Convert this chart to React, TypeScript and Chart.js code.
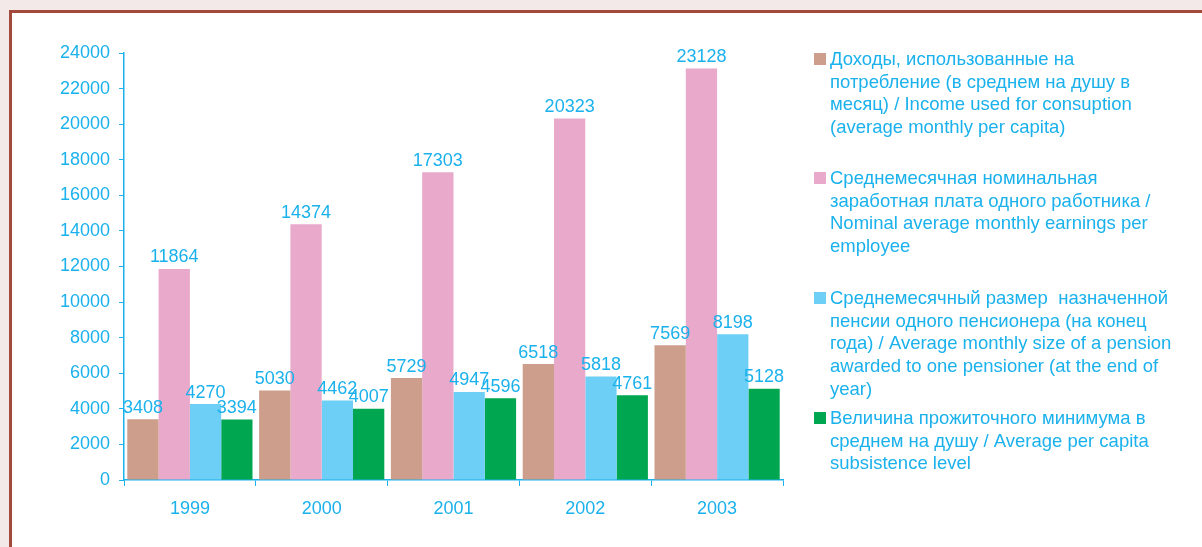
import React, { useEffect, useRef } from "react";
import { Chart, registerables } from "chart.js";

Chart.register(...registerables);

const years = ["1999", "2000", "2001", "2002", "2003"];
const incomeConsumption = [3408, 5030, 5729, 6518, 7569];
const nominalEarnings = [11864, 14374, 17303, 20323, 23128];
const pension = [4270, 4462, 4947, 5818, 8198];
const subsistence = [3394, 4007, 4596, 4761, 5128];

const legendLines: string[][] = [
  [
    "Доходы, использованные на",
    "потребление (в среднем на душу в",
    "месяц) / Income used for consuption",
    "(average monthly per capita)",
  ],
  [
    "Среднемесячная номинальная",
    "заработная плата одного работника /",
    "Nominal average monthly earnings per",
    "employee",
  ],
  [
    "Среднемесячный размер  назначенной",
    "пенсии одного пенсионера (на конец",
    "года) / Average monthly size of a pension",
    "awarded to one pensioner (at the end of",
    "year)",
  ],
  [
    "Величина прожиточного минимума в",
    "среднем на душу / Average per capita",
    "subsistence level",
  ],
];

const colors = ["#cd9e8b", "#e8a9cb", "#6dcff6", "#00a650"];
const seriesValues = [incomeConsumption, nominalEarnings, pension, subsistence];
const legendTops = [48, 167, 287, 407];

const TEXT = "#1ab1ec";
const FONT = "'Liberation Sans', Arial, sans-serif";

const valueLabels = {
  id: "valueLabels",
  afterDatasetsDraw(chart: any) {
    const ctx = chart.ctx;
    ctx.save();
    ctx.fillStyle = TEXT;
    ctx.font = `18px ${FONT}`;
    ctx.textAlign = "center";
    ctx.textBaseline = "alphabetic";
    chart.data.datasets.forEach((ds: any, i: number) => {
      const meta = chart.getDatasetMeta(i);
      meta.data.forEach((el: any, j: number) => {
        ctx.fillText(String(ds.data[j]), el.x, el.y - 6.5);
      });
    });
    ctx.restore();
  },
};

export default function App() {
  const ref = useRef<HTMLCanvasElement>(null);

  useEffect(() => {
    if (!ref.current) return;
    const chart = new Chart(ref.current, {
      type: "bar",
      data: {
        labels: years,
        datasets: seriesValues.map((vals, i) => ({
          label: legendLines[i].join(" "),
          data: vals,
          backgroundColor: colors[i],
          borderWidth: 0,
          barPercentage: 1,
          categoryPercentage: 0.95,
        })),
      },
      options: {
        responsive: false,
        animation: false,
        layout: { padding: { left: 0, top: 53, right: 419, bottom: 0 } },
        plugins: {
          legend: { display: false },
          tooltip: { enabled: false },
        },
        scales: {
          x: {
            afterFit: (s: any) => {
              s.height = 67;
            },
            grid: {
              drawOnChartArea: false,
              drawTicks: true,
              tickLength: 6,
              color: TEXT,
              offset: true,
            },
            border: { color: TEXT, width: 1.5 },
            ticks: {
              color: TEXT,
              font: { size: 18, family: FONT },
              padding: 12,
            },
          },
          y: {
            min: 0,
            max: 24000,
            afterFit: (s: any) => {
              s.width = 124;
            },
            grid: {
              drawOnChartArea: false,
              drawTicks: true,
              tickLength: 5,
              color: TEXT,
            },
            border: { color: TEXT, width: 1.5 },
            ticks: {
              stepSize: 2000,
              color: TEXT,
              font: { size: 18, family: FONT },
              padding: 9,
              callback: (v: any) => String(v),
            },
          },
        },
      },
      plugins: [valueLabels],
    });
    return () => chart.destroy();
  }, []);

  return (
    <div
      style={{
        position: "absolute",
        left: 0,
        top: 0,
        width: 1202,
        height: 547,
        background: "#f4e9e9",
        overflow: "hidden",
      }}
    >
      <div
        style={{
          position: "absolute",
          left: 9,
          top: 10,
          width: 1300,
          height: 700,
          background: "#ffffff",
          borderTop: "3px solid #a3493c",
          borderLeft: "3px solid #a3493c",
        }}
      />
      <canvas
        ref={ref}
        width={1202}
        height={547}
        style={{ position: "absolute", left: 0, top: 0, width: 1202, height: 547 }}
      />
      {legendLines.map((lines, i) => (
        <div
          key={i}
          style={{
            position: "absolute",
            left: 814,
            top: legendTops[i],
            fontFamily: FONT,
            fontSize: 18.5,
            lineHeight: "22.7px",
            color: TEXT,
            whiteSpace: "pre",
          }}
        >
          <span
            style={{
              position: "absolute",
              left: 0,
              top: 5,
              width: 12,
              height: 12,
              background: colors[i],
            }}
          />
          <div style={{ marginLeft: 16 }}>
            {lines.map((l, k) => (
              <div key={k}>{l}</div>
            ))}
          </div>
        </div>
      ))}
    </div>
  );
}
